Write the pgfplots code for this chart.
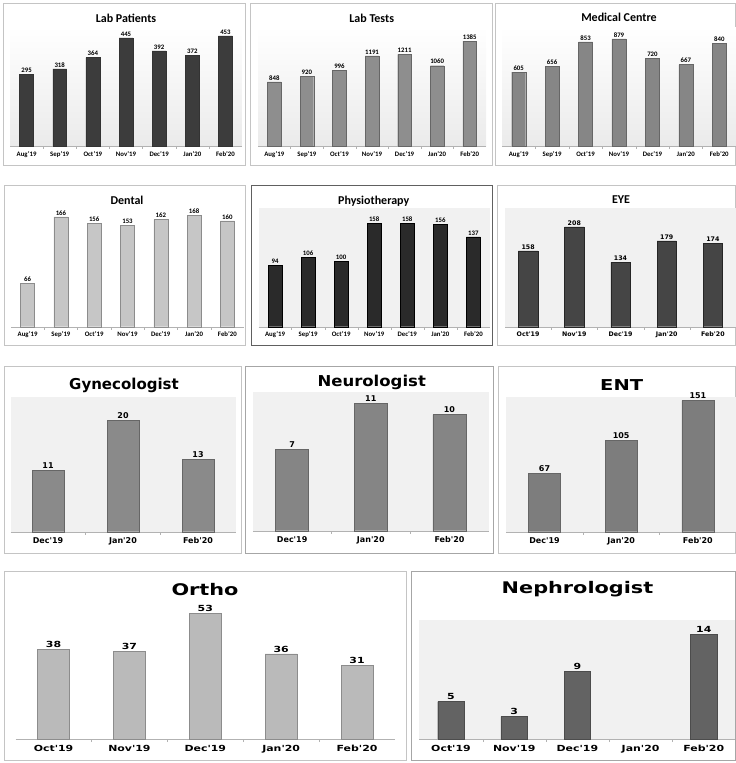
\documentclass[border=0pt]{standalone}
\usepackage{pgfplots}
\pgfplotsset{compat=1.18}
\usepackage{graphicx}
\usepackage{fontspec}
\setmainfont{Carlito}
\newfontfamily\dv{DejaVu Sans}
\newfontfamily\dvw[FakeStretch=1.3]{DejaVu Sans}

\definecolor{frame}{HTML}{C4C4C4}
\definecolor{labpat}{HTML}{3C3C3C}
\definecolor{labtest}{HTML}{8E8E8E}
\definecolor{medical}{HTML}{868686}
\definecolor{dental}{HTML}{C6C6C6}
\definecolor{physio}{HTML}{2A2A2A}
\definecolor{eye}{HTML}{454545}
\definecolor{gyn}{HTML}{8A8A8A}
\definecolor{neuro}{HTML}{858585}
\definecolor{ent}{HTML}{7D7D7D}
\definecolor{ortho}{HTML}{BABABA}
\definecolor{nephro}{HTML}{636363}

\pgfplotsset{
  panel/.style={
    anchor=north west, scale only axis,
    ybar, ymin=0, bar width=0.42,
    enlarge x limits=false,
    axis y line=none, axis x line*=bottom,
    x axis line style={draw=gray!60, -},
    major tick length=0pt, minor tick length=3pt,
    minor x tick num=1, tick align=outside,
    minor tick style={gray!60},
    xticklabel style={anchor=north, text height=1.55ex, text depth=0.3ex, inner sep=1.5pt},
    nodes near coords,
    every node near coord/.append style={text=black, inner sep=1.5pt},
    /pgf/number format/assume math mode=true,
    /pgf/number format/1000 sep={},
    clip=false,
  },
  small/.style={
    ticklabel style={font=\bfseries\fontsize{6.8}{8}\selectfont, yshift=-1pt},
    nodes near coords style={font=\bfseries\fontsize{6.8}{8}\selectfont},
    xticklabels={Aug'19,Sep'19,Oct'19,Nov'19,Dec'19,Jan'20,Feb'20},
    xtick={0,...,6}, xmin=-0.5, xmax=6.5,
  },
  big/.style={
    ticklabel style={font=\dv\bfseries\fontsize{8}{9}\selectfont, yshift=-3pt},
    nodes near coords style={font=\dv\bfseries\fontsize{8}{9}\selectfont},
    xticklabels={Dec'19,Jan'20,Feb'20},
    xtick={0,1,2}, xmin=-0.5, xmax=2.5,
  },
  wide/.style={
    ticklabel style={font=\dvw\bfseries\fontsize{8.4}{9}\selectfont, yshift=-3pt},
    nodes near coords style={font=\dvw\bfseries\fontsize{8.4}{9}\selectfont},
    xticklabels={Oct'19,Nov'19,Dec'19,Jan'20,Feb'20},
    xtick={0,...,4}, xmin=-0.5, xmax=4.5,
  },
  shaded/.style={axis background/.style={shade, top color=white, bottom color=gray!16}},
  flat/.style={axis background/.style={fill=gray!11}},
}

\begin{document}
\begin{tikzpicture}
\useasboundingbox (0,0) rectangle (736pt,-763pt);

% panel frames
\begin{scope}[draw=frame, line width=0.8pt]
\draw (3pt,-3pt) rectangle (245pt,-165pt);
\draw (250pt,-3pt) rectangle (492pt,-165pt);
\draw (495pt,-3pt) rectangle (735pt,-165pt);
\draw (4pt,-185pt) rectangle (245pt,-345pt);
\draw (497pt,-185pt) rectangle (735pt,-345pt);
\draw (4pt,-366pt) rectangle (241pt,-553pt);
\draw (498pt,-366pt) rectangle (735pt,-553pt);
\draw (4pt,-571pt) rectangle (406pt,-760pt);
\end{scope}
\draw[gray!75!black, line width=1pt] (251pt,-185pt) rectangle (492pt,-345pt);
\draw[gray!70, line width=1pt] (245pt,-366pt) rectangle (493pt,-553pt);
\draw[gray!70, line width=1pt] (411pt,-571pt) rectangle (735pt,-760pt);

% row 1
\begin{axis}[panel, small, shaded, at={(10pt,-27pt)}, width=232pt, height=119pt, ymax=490]
\addplot[fill=labpat, draw=black!80] coordinates {(0,295) (1,318) (2,364) (3,445) (4,392) (5,372) (6,453)};
\end{axis}
\begin{axis}[panel, small, shaded, at={(258pt,-27pt)}, width=228pt, height=119pt, ymax=1571]
\addplot[fill=labtest, draw=black!60] coordinates {(0,848) (1,920) (2,996) (3,1191) (4,1211) (5,1060) (6,1385)};
\end{axis}
\begin{axis}[panel, small, shaded, at={(502pt,-27pt)}, width=234pt, height=119pt, ymax=976]
\addplot[fill=medical, draw=black!60] coordinates {(0,605) (1,656) (2,853) (3,879) (4,720) (5,667) (6,840)};
\end{axis}

% row 2
\begin{axis}[panel, small, axis background/.style={fill=white}, at={(11pt,-205pt)}, width=233pt, height=121.7pt, ymax=184]
\addplot[fill=dental, draw=black!45] coordinates {(0,66) (1,166) (2,156) (3,153) (4,162) (5,168) (6,160)};
\end{axis}
\begin{axis}[panel, small, flat, at={(258.5pt,-208pt)}, width=231.4pt, height=118.7pt, ymax=181]
\addplot[fill=physio, draw=black] coordinates {(0,94) (1,106) (2,100) (3,158) (4,158) (5,156) (6,137)};
\end{axis}
\begin{axis}[panel, flat, at={(505pt,-208pt)}, width=231pt, height=118.7pt, ymax=247.6,
  ticklabel style={font=\dv\bfseries\fontsize{6.3}{7}\selectfont, yshift=-1pt},
  nodes near coords style={font=\dv\bfseries\fontsize{6.3}{7}\selectfont},
  xticklabels={Oct'19,Nov'19,Dec'19,Jan'20,Feb'20}, xtick={0,...,4}, xmin=-0.5, xmax=4.5]
\addplot[fill=eye, draw=black!85] coordinates {(0,158) (1,208) (2,134) (3,179) (4,174)};
\end{axis}

% row 3
\begin{axis}[panel, big, flat, at={(10.5pt,-397pt)}, width=225pt, height=134.7pt, ymax=24.2]
\addplot[fill=gyn, draw=black!60] coordinates {(0,11) (1,20) (2,13)};
\end{axis}
\begin{axis}[panel, big, flat, at={(252.8pt,-392pt)}, width=236pt, height=138.7pt, ymax=11.95]
\addplot[fill=neuro, draw=black!60] coordinates {(0,7) (1,11) (2,10)};
\end{axis}
\begin{axis}[panel, big, flat, at={(506.2pt,-396.7pt)}, width=230pt, height=135pt, ymax=155.5]
\addplot[fill=ent, draw=black!60] coordinates {(0,67) (1,105) (2,151)};
\end{axis}

% row 4
\begin{axis}[panel, wide, axis background/.style={fill=white}, at={(15.6pt,-598pt)}, width=379.4pt, height=141pt, ymax=59.6]
\addplot[fill=ortho, draw=black!45] coordinates {(0,38) (1,37) (2,53) (3,36) (4,31)};
\end{axis}
\begin{axis}[panel, wide, flat, at={(419.4pt,-620pt)}, width=316pt, height=119pt, ymax=15.9]
\addplot[fill=nephro, draw=black!70] coordinates {(0,5) (1,3) (2,9) (4,14)};
\end{axis}

% titles
\begin{scope}[font=\bfseries\fontsize{12}{14}\selectfont]
\node at (126pt,-18pt) {Lab Patients};
\node at (371.7pt,-18pt) {Lab Tests};
\node at (619pt,-17pt) {Medical Centre};
\node at (127pt,-200pt) {Dental};
\node at (373.7pt,-201pt) {Physiotherapy};
\node at (621pt,-200pt) {EYE};
\end{scope}
\begin{scope}[font=\dv\bfseries\fontsize{15}{17}\selectfont]
\node at (124pt,-385pt) {Gynecologist};
\node at (371.7pt,-382.7pt) {\scalebox{1.1}[1]{Neurologist}};
\node at (621.7pt,-385pt) {\scalebox{1.3}[1]{ENT}};
\end{scope}
\begin{scope}[font=\dvw\bfseries\fontsize{16}{18}\selectfont]
\node at (205pt,-590pt) {Ortho};
\node at (577.5pt,-589pt) {Nephrologist};
\end{scope}
\end{tikzpicture}
\end{document}
